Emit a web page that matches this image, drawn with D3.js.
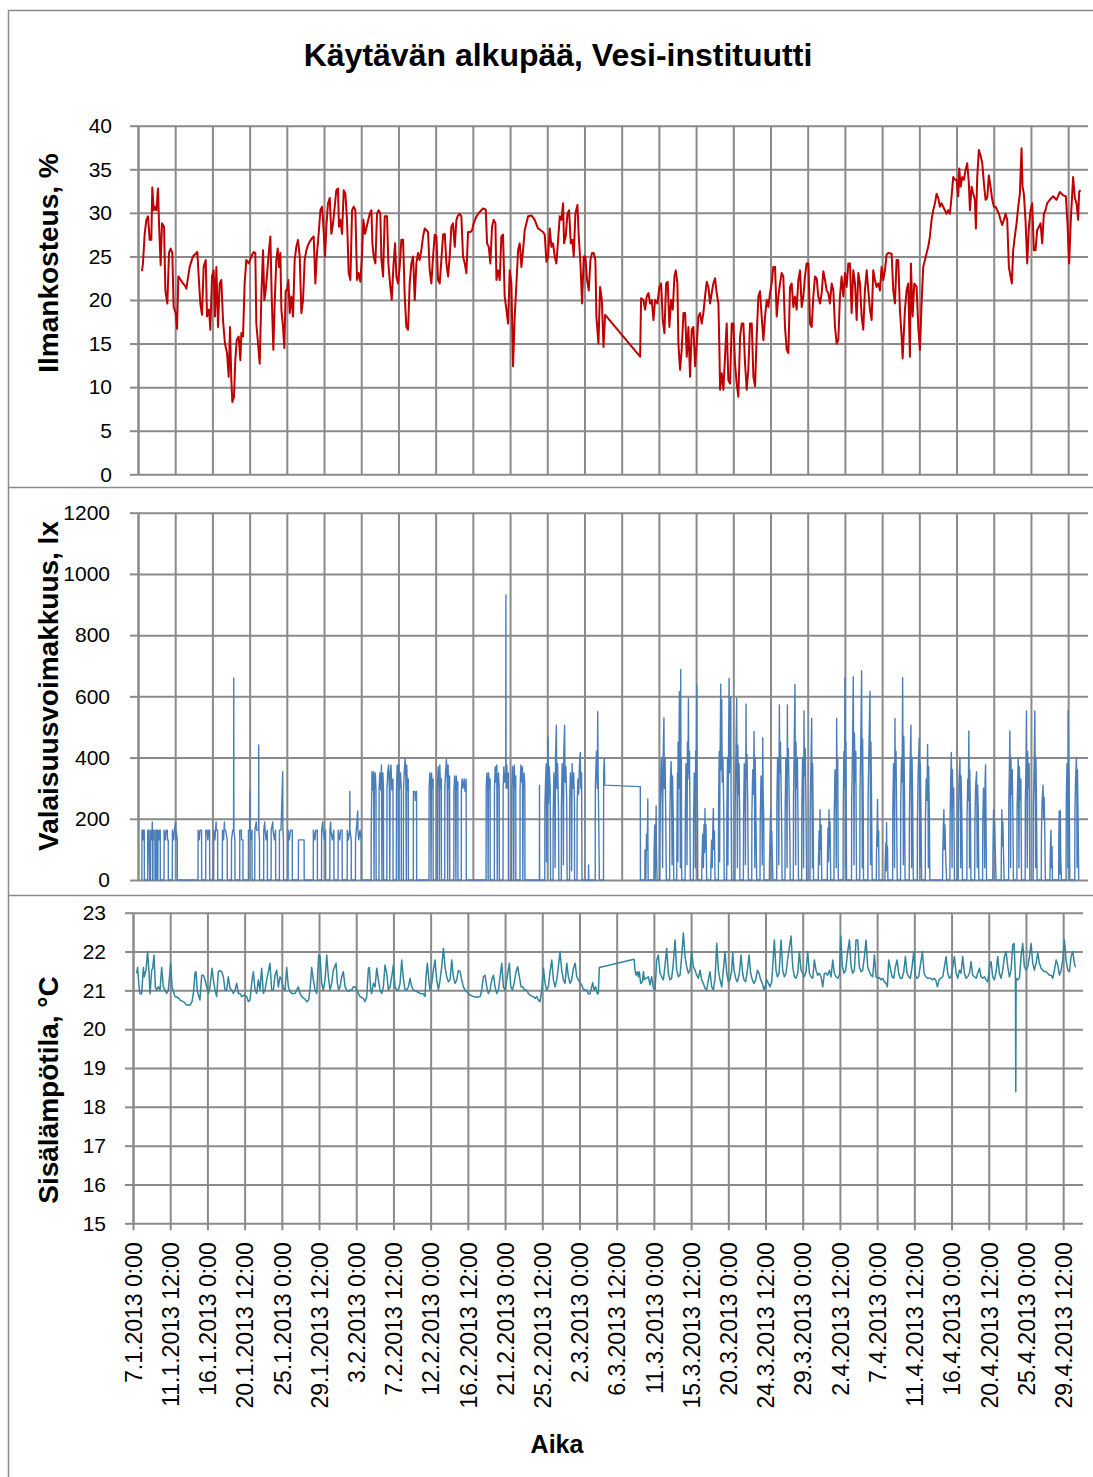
<!DOCTYPE html>
<html>
<head>
<meta charset="utf-8">
<script src="https://cdn.jsdelivr.net/npm/d3@7"></script>
<style>
  html, body { margin: 0; padding: 0; background: #fff; }
  svg { display: block; }
</style>
</head>
<body>
<svg id="chart" width="1093" height="1477"></svg>
<script>
// Measurement period starts 7.1.2013 0:00; every reading is [days since start, value].
const startDay = "7.1.2013 0:00";

const xTickLabels = [
  "7.1.2013 0:00", "11.1.2013 12:00", "16.1.2013 0:00", "20.1.2013 12:00",
  "25.1.2013 0:00", "29.1.2013 12:00", "3.2.2013 0:00", "7.2.2013 12:00",
  "12.2.2013 0:00", "16.2.2013 12:00", "21.2.2013 0:00", "25.2.2013 12:00",
  "2.3.2013 0:00", "6.3.2013 12:00", "11.3.2013 0:00", "15.3.2013 12:00",
  "20.3.2013 0:00", "24.3.2013 12:00", "29.3.2013 0:00", "2.4.2013 12:00",
  "7.4.2013 0:00", "11.4.2013 12:00", "16.4.2013 0:00", "20.4.2013 12:00",
  "25.4.2013 0:00", "29.4.2013 12:00"
];

const humidityTicks = [0, 5, 10, 15, 20, 25, 30, 35, 40];
const luxTicks = [0, 200, 400, 600, 800, 1000, 1200];
const temperatureTicks = [15, 16, 17, 18, 19, 20, 21, 22, 23];

// Relative humidity, %
const humidity = [
[0.48,23.3],[0.60,24.2],[0.81,27.6],[1.01,29.2],[1.21,29.6],[1.41,26.9],[1.61,26.9],[1.73,32.9],[1.90,30.3],[2.02,30.7],
[2.22,30.3],[2.42,32.8],[2.54,28.8],[2.74,24.0],[2.90,28.8],[3.15,28.4],[3.31,21.1],[3.55,19.6],[3.75,25.4],[3.95,25.9],
[4.15,25.4],[4.31,19.2],[4.56,18.5],[4.72,16.7],[4.88,22.7],[5.04,22.5],[5.44,21.9],[5.65,21.7],[5.85,21.3],[6.25,23.8],
[6.65,25.0],[7.18,25.5],[7.34,22.7],[7.54,19.6],[7.74,18.3],[7.94,23.8],[8.19,24.6],[8.35,18.1],[8.59,18.9],[8.75,16.6],
[8.95,22.7],[9.15,23.4],[9.31,18.1],[9.48,23.8],[9.68,16.9],[9.88,21.9],[10.08,22.3],[10.28,17.7],[10.52,15.0],[10.77,13.9],
[10.97,11.2],[11.13,16.9],[11.29,10.8],[11.41,8.3],[11.61,8.9],[11.77,13.1],[11.94,15.4],[12.18,15.8],[12.38,13.1],[12.50,16.2],
[12.70,15.8],[12.90,21.9],[13.10,24.6],[13.39,24.2],[13.71,25.0],[13.99,25.5],[14.19,25.4],[14.31,17.3],[14.52,15.0],[14.72,12.7],
[14.92,20.4],[15.12,25.7],[15.28,20.0],[15.44,21.1],[15.65,23.4],[15.81,25.4],[16.01,27.3],[16.17,20.4],[16.37,14.3],[16.53,19.6],
[16.73,24.6],[16.90,25.9],[17.06,23.8],[17.22,25.4],[17.34,18.9],[17.54,16.9],[17.70,14.5],[17.86,21.1],[18.02,21.1],[18.19,22.3],
[18.35,18.5],[18.55,20.4],[18.75,18.1],[18.95,24.6],[19.15,26.1],[19.35,26.9],[19.56,25.0],[19.76,18.5],[19.96,20.0],[20.16,24.6],
[20.36,25.7],[20.56,26.3],[20.77,26.7],[21.05,27.1],[21.25,27.3],[21.45,21.9],[21.65,25.4],[21.85,27.6],[22.06,30.3],[22.26,30.7],
[22.38,29.2],[22.62,25.0],[22.78,28.4],[22.98,31.1],[23.19,31.7],[23.39,27.6],[23.59,28.8],[23.79,30.7],[23.99,32.6],[24.19,32.8],
[24.31,28.4],[24.48,29.2],[24.68,27.6],[24.88,32.6],[25.08,32.2],[25.28,29.2],[25.48,23.1],[25.69,22.3],[25.89,30.3],[26.09,30.7],
[26.29,30.3],[26.49,22.3],[26.69,23.1],[26.90,22.1],[27.10,25.4],[27.26,29.2],[27.46,27.6],[27.66,28.4],[28.02,29.9],[28.23,30.3],
[28.35,26.5],[28.51,25.0],[28.71,24.2],[28.91,29.9],[29.11,30.3],[29.31,29.9],[29.44,24.6],[29.64,22.7],[29.84,29.6],[30.12,29.6],
[30.28,24.2],[30.48,21.9],[30.69,20.0],[30.89,23.8],[31.09,26.5],[31.25,22.7],[31.45,21.9],[31.65,23.8],[31.85,26.9],[32.06,26.9],
[32.26,20.4],[32.46,16.9],[32.66,16.6],[32.86,21.9],[33.06,24.2],[33.27,25.0],[33.47,20.0],[33.67,24.2],[33.87,25.4],[34.07,24.6],
[34.27,25.7],[34.48,27.3],[34.68,28.2],[35.08,27.8],[35.28,23.4],[35.48,21.9],[35.69,25.0],[35.89,27.5],[36.09,27.3],[36.29,22.3],
[36.49,21.9],[36.69,24.6],[36.90,27.5],[37.10,27.6],[37.30,24.2],[37.50,22.7],[37.70,25.0],[37.90,28.4],[38.10,28.8],[38.31,26.1],
[38.51,29.2],[38.71,29.7],[38.91,29.9],[39.11,29.6],[39.31,25.0],[39.52,24.2],[39.72,23.1],[39.92,27.8],[40.20,27.8],[40.40,28.0],
[40.60,28.8],[40.93,29.6],[41.33,30.1],[41.73,30.5],[42.06,30.4],[42.22,26.5],[42.42,26.1],[42.62,24.2],[42.82,28.4],[43.02,29.2],
[43.23,28.8],[43.35,22.3],[43.55,23.4],[43.75,22.3],[43.95,27.3],[44.15,27.5],[44.35,20.4],[44.56,18.9],[44.76,17.3],[44.96,23.4],
[45.16,21.9],[45.36,12.4],[45.56,18.1],[45.77,21.9],[45.97,25.7],[46.17,26.5],[46.37,23.8],[46.57,25.7],[46.77,28.0],[47.18,29.6],
[47.58,29.7],[47.98,29.2],[48.39,28.2],[48.99,27.8],[49.19,27.5],[49.40,24.4],[49.60,25.0],[49.80,28.2],[50.00,26.1],[50.20,26.5],
[50.40,25.0],[50.60,24.2],[50.81,26.9],[51.01,29.6],[51.21,29.2],[51.41,31.1],[51.53,26.5],[51.73,27.3],[51.94,29.9],[52.14,30.3],
[52.34,26.5],[52.54,26.9],[52.70,25.0],[52.90,29.9],[53.15,30.9],[53.31,27.3],[53.51,24.2],[53.71,19.6],[53.91,25.0],[54.11,25.0],
[54.31,22.3],[54.52,21.1],[54.72,24.6],[54.92,25.4],[55.12,25.4],[55.32,24.6],[55.44,18.1],[55.69,15.0],[55.89,21.5],[56.10,20.0],
[56.30,14.6],[56.50,18.3],[60.73,13.5],[60.85,20.2],[61.13,20.0],[61.33,18.9],[61.53,20.4],[61.74,20.8],[61.94,19.6],[62.14,20.0],
[62.34,17.7],[62.54,20.0],[62.82,19.6],[63.07,21.5],[63.27,21.9],[63.47,17.7],[63.67,16.2],[63.87,21.9],[64.07,22.1],[64.27,16.9],
[64.48,20.0],[64.68,18.9],[64.88,22.7],[65.04,23.4],[65.24,21.9],[65.36,15.0],[65.56,12.0],[65.76,14.3],[65.97,18.5],[66.17,18.5],
[66.37,13.5],[66.57,16.9],[66.77,11.2],[66.97,16.6],[67.17,16.9],[67.38,12.4],[67.58,15.0],[67.78,18.1],[67.98,18.5],[68.18,17.3],
[68.38,18.5],[68.58,20.4],[68.79,22.1],[68.99,21.5],[69.19,19.6],[69.39,20.8],[69.59,21.9],[69.79,22.5],[69.99,20.8],[70.20,19.6],
[70.32,14.3],[70.40,9.7],[70.60,11.6],[70.80,9.7],[71.00,13.5],[71.20,17.3],[71.40,10.8],[71.61,10.4],[71.81,17.3],[72.01,17.3],
[72.21,12.7],[72.41,10.4],[72.61,8.9],[72.82,15.8],[73.02,17.3],[73.22,17.3],[73.42,12.7],[73.62,9.7],[73.82,12.0],[74.02,17.3],
[74.23,17.3],[74.43,11.2],[74.63,10.1],[74.83,15.8],[75.03,20.4],[75.23,21.0],[75.43,18.1],[75.64,15.4],[75.84,18.1],[76.04,20.0],
[76.24,19.2],[76.44,20.8],[76.64,21.9],[76.84,23.8],[77.05,23.8],[77.25,18.1],[77.45,20.4],[77.65,21.9],[77.85,23.1],[78.05,22.7],
[78.25,16.9],[78.46,14.3],[78.66,13.9],[78.86,21.5],[79.06,21.9],[79.26,19.2],[79.46,20.4],[79.66,18.9],[79.87,22.3],[80.07,23.4],
[80.27,19.2],[80.47,20.4],[80.67,22.7],[80.87,24.2],[81.08,24.2],[81.28,17.3],[81.48,16.9],[81.68,20.4],[81.88,22.7],[82.08,22.5],
[82.28,20.4],[82.49,19.6],[82.69,20.8],[82.89,23.3],[83.09,22.3],[83.29,21.1],[83.49,20.8],[83.69,19.6],[83.90,21.9],[84.10,21.1],
[84.30,16.9],[84.50,15.0],[84.70,15.4],[84.90,20.4],[85.10,22.7],[85.31,20.4],[85.51,23.1],[85.71,21.5],[85.91,24.2],[86.11,24.2],
[86.31,18.5],[86.51,23.4],[86.72,21.9],[86.92,17.7],[87.12,23.1],[87.32,21.9],[87.52,18.1],[87.72,16.6],[87.92,21.1],[88.13,23.4],
[88.33,21.1],[88.53,18.9],[88.73,17.7],[88.93,23.4],[89.13,22.3],[89.33,21.5],[89.54,21.9],[89.74,21.1],[89.94,23.8],[90.14,22.3],
[90.34,23.4],[90.54,25.2],[90.74,25.4],[91.15,25.3],[91.35,21.1],[91.55,19.6],[91.75,24.6],[91.95,24.6],[92.15,18.9],[92.36,15.8],
[92.48,13.3],[92.76,18.9],[92.96,21.1],[93.16,21.9],[93.36,13.5],[93.48,24.2],[93.69,18.1],[93.89,21.9],[94.17,21.5],[94.37,16.9],
[94.57,14.3],[94.77,19.6],[94.97,23.8],[95.18,24.6],[95.38,25.4],[95.58,26.1],[95.78,27.3],[95.98,29.2],[96.18,30.3],[96.39,31.1],
[96.59,32.2],[96.79,31.7],[96.99,30.7],[97.19,31.1],[97.39,30.7],[97.59,30.3],[97.80,29.9],[98.00,30.3],[98.20,29.9],[98.40,31.9],
[98.60,34.1],[98.80,33.8],[99.00,33.8],[99.21,31.9],[99.33,35.1],[99.49,33.0],[99.69,34.1],[99.89,33.8],[100.09,34.9],[100.29,35.7],
[100.49,33.4],[100.62,30.3],[100.82,33.0],[101.02,32.2],[101.22,31.5],[101.34,28.2],[101.50,34.1],[101.70,37.2],[101.90,36.6],[102.11,35.7],
[102.31,33.4],[102.51,31.5],[102.71,31.7],[102.91,34.3],[103.11,33.0],[103.32,31.5],[103.52,30.7],[103.72,30.7],[103.92,30.3],[104.12,29.9],
[104.32,29.2],[104.52,28.6],[104.73,29.2],[104.93,29.9],[105.13,29.2],[105.33,23.8],[105.53,22.7],[105.69,21.9],[105.85,25.7],[106.05,27.3],
[106.26,28.8],[106.46,30.7],[106.66,32.2],[106.86,37.4],[106.98,33.0],[107.14,32.2],[107.34,29.2],[107.55,24.2],[107.75,28.4],[107.95,30.3],
[108.15,31.1],[108.35,25.7],[108.55,25.7],[108.75,28.0],[108.96,28.4],[109.16,28.8],[109.36,26.5],[109.56,29.9],[109.76,30.3],[109.96,31.1],
[110.28,31.5],[110.69,31.9],[111.09,31.5],[111.49,32.4],[111.90,32.0],[112.22,31.9],[112.42,28.8],[112.62,24.2],[112.82,29.2],[113.10,34.1],
[113.31,31.7],[113.51,31.1],[113.71,29.2],[113.83,32.4],[113.99,32.6]
];

// Illuminance, lx
const illuminance = [
[0.47,0],[0.48,163],[0.56,163],[0.6,131],[0.64,163],[0.76,163],[0.77,0],
[1.17,0],[1.18,163],[1.3,163],[1.41,0],[1.49,0],[1.5,163],[1.6,131],[1.7,163],[1.73,190],[1.75,0],[1.81,0],[1.82,163],[1.95,163],[1.96,131],[2.05,131],[2.06,0],
[2.14,0],[2.15,163],[2.28,163],[2.3,0],[2.4,0],[2.41,163],[2.55,131],[2.6,163],[2.69,163],[2.7,0],
[3.15,0],[3.16,163],[3.3,131],[3.4,163],[3.55,163],[3.56,131],[3.66,131],[3.67,0],
[4.15,0],[4.16,163],[4.3,131],[4.4,163],[4.55,190],[4.56,131],[4.6,163],[4.75,131],[4.76,0],
[7.26,0],[7.27,163],[7.4,131],[7.5,163],[7.69,163],[7.7,0],
[8.19,0],[8.2,163],[8.35,163],[8.45,131],[8.55,163],[8.66,163],[8.67,0],
[9.15,0],[9.16,163],[9.3,131],[9.45,190],[9.47,163],[9.63,163],[9.64,0],
[10.2,0],[10.21,163],[10.35,131],[10.45,190],[10.47,163],[10.6,163],[10.79,131],[10.8,0],
[11.3,0],[11.31,131],[11.45,163],[11.56,163],[11.58,660],[11.6,163],[11.72,131],[11.73,0],
[12.3,0],[12.31,163],[12.5,163],[12.52,131],[12.69,131],[12.7,0],
[13.35,0],[13.36,163],[13.5,163],[13.53,289],[13.56,163],[13.7,131],[13.79,163],[13.8,0],
[14.12,0],[14.13,163],[14.3,190],[14.35,163],[14.58,163],[14.6,441],[14.62,163],[14.69,131],[14.7,0],
[15.2,0],[15.21,163],[15.33,190],[15.36,163],[15.5,131],[15.64,163],[15.65,0],
[16.1,0],[16.11,163],[16.3,190],[16.33,163],[16.5,131],[16.64,163],[16.65,0],
[17.1,0],[17.11,163],[17.3,163],[17.5,354],[17.53,163],[17.59,131],[17.6,0],
[18.15,0],[18.16,163],[18.3,131],[18.45,163],[18.66,163],[18.67,0],
[19.4,0],[19.41,131],[20.09,131],[20.1,0],
[21.2,0],[21.21,163],[21.4,131],[21.5,163],[21.69,163],[21.7,0],
[22.2,0],[22.21,163],[22.35,190],[22.38,163],[22.55,131],[22.69,163],[22.7,0],
[23.2,0],[23.21,163],[23.3,190],[23.33,163],[23.5,131],[23.69,163],[23.7,0],
[24.2,0],[24.21,163],[24.4,131],[24.5,163],[24.69,163],[24.7,0],
[25.3,0],[25.31,163],[25.45,131],[25.6,163],[25.62,289],[25.64,163],[25.79,131],[25.8,0],
[26.3,0],[26.31,131],[26.4,163],[26.58,226],[26.6,163],[26.7,131],[26.85,163],[26.99,131],[27.0,0],
[28.2,0],[28.21,163],[28.3,354],[28.4,294],[28.5,354],[28.55,0],[28.6,294],[28.7,350],[28.79,294],[28.8,0],
[29.15,0],[29.16,300],[29.25,350],[29.35,294],[29.45,376],[29.5,0],[29.55,300],[29.62,350],[29.69,294],[29.7,0],
[30.1,0],[30.11,294],[30.2,350],[30.3,376],[30.4,300],[30.45,0],[30.5,350],[30.6,376],[30.7,294],[30.84,330],[30.85,0],
[31.25,0],[31.26,294],[31.35,376],[31.45,320],[31.5,0],[31.55,376],[31.65,300],[31.75,350],[31.84,300],[31.85,0],
[32.1,0],[32.11,294],[32.2,350],[32.3,397],[32.4,330],[32.45,0],[32.5,376],[32.6,294],[32.69,330],[32.7,0],
[33.3,0],[33.31,289],[33.5,289],[33.55,260],[33.69,289],[33.7,0],
[35.2,0],[35.21,300],[35.3,350],[35.4,294],[35.45,0],[35.5,350],[35.6,300],[35.69,330],[35.7,0],
[36.2,0],[36.21,294],[36.3,370],[36.4,320],[36.45,0],[36.5,376],[36.6,300],[36.69,330],[36.7,0],
[37.1,0],[37.11,300],[37.2,350],[37.3,395],[37.4,320],[37.45,0],[37.5,376],[37.6,300],[37.69,340],[37.7,0],
[38.2,0],[38.21,294],[38.3,340],[38.4,300],[38.45,0],[38.5,340],[38.6,294],[38.69,320],[38.7,0],
[39.1,0],[39.11,290],[39.2,330],[39.3,300],[39.45,330],[39.55,290],[39.69,330],[39.7,0],
[42.1,0],[42.11,300],[42.2,350],[42.3,294],[42.35,0],[42.4,350],[42.5,300],[42.59,330],[42.6,0],
[43.1,0],[43.11,294],[43.2,370],[43.3,320],[43.4,376],[43.45,0],[43.5,300],[43.6,350],[43.69,300],[43.7,0],
[44.15,0],[44.16,300],[44.25,370],[44.35,320],[44.48,350],[44.5,931],[44.52,300],[44.6,376],[44.7,300],[44.79,350],[44.8,0],
[45.2,0],[45.21,300],[45.3,370],[45.4,320],[45.45,0],[45.5,376],[45.6,300],[45.69,340],[45.7,0],
[46.2,0],[46.21,294],[46.3,376],[46.4,320],[46.5,370],[46.55,0],[46.6,300],[46.7,350],[46.79,300],[46.8,0],
[48.55,0],[48.56,310],[48.58,0],
[49.2,0],[49.21,240],[49.3,330],[49.38,380],[49.42,60],[49.5,300],[49.6,466],[49.65,250],[49.75,370],[49.85,300],[49.9,0],
[50.2,0],[50.21,200],[50.3,350],[50.4,260],[50.45,40],[50.5,400],[50.6,506],[50.65,300],[50.75,380],[50.85,240],[50.9,0],
[51.2,0],[51.21,240],[51.3,380],[51.4,300],[51.45,50],[51.5,420],[51.6,506],[51.65,320],[51.75,370],[51.85,260],[51.9,0],
[52.2,0],[52.21,260],[52.3,350],[52.4,290],[52.45,30],[52.5,380],[52.6,300],[52.7,350],[52.79,250],[52.8,0],
[53.1,0],[53.11,240],[53.2,330],[53.3,280],[53.4,380],[53.5,417],[53.55,300],[53.65,350],[53.7,0],
[54.48,0],[54.5,49],[54.52,0],
[55.3,0],[55.31,300],[55.45,420],[55.55,300],[55.6,550],[55.65,350],[55.75,131],[55.8,0],[56.3,0],[56.32,350],[56.4,397],[56.45,310],[60.75,305],[60.77,0],
[61.3,0],[61.32,98],[61.42,0],[61.5,150],[61.6,98],[61.66,265],[61.68,98],[61.7,0],
[62.4,0],[62.42,98],[62.5,180],[62.55,0],[62.62,120],[62.67,242],[62.7,120],[62.78,0],
[63.1,0],[63.12,120],[63.2,300],[63.3,400],[63.4,260],[63.45,40],[63.5,380],[63.61,530],[63.65,300],[63.75,400],[63.85,150],[63.9,0],
[64.3,0],[64.32,200],[64.4,330],[64.48,387],[64.55,260],[64.6,50],[64.65,340],[64.75,180],[64.8,0],
[65.16,0],[65.18,150],[65.25,350],[65.3,60],[65.32,450],[65.4,300],[65.48,615],[65.55,350],[65.6,40],[65.64,688],[65.67,320],[65.72,400],[65.76,0],
[66.17,0],[66.19,200],[66.27,380],[66.35,300],[66.4,50],[66.45,450],[66.52,330],[66.57,593],[66.62,350],[66.7,420],[66.77,150],[66.8,0],
[67.17,0],[67.19,180],[67.28,350],[67.36,280],[67.4,40],[67.45,420],[67.52,300],[67.58,637],[67.62,330],[67.68,200],[67.7,0],
[68.18,0],[68.2,60],[68.3,150],[68.38,40],[68.45,180],[68.52,90],[68.58,234],[68.62,100],[68.7,180],[68.78,0],
[69.27,0],[69.29,50],[69.38,130],[69.45,40],[69.52,170],[69.59,234],[69.63,100],[69.72,160],[69.79,0],
[70.2,0],[70.22,250],[70.3,420],[70.35,60],[70.38,330],[70.48,640],[70.52,360],[70.6,590],[70.66,320],[70.75,400],[70.85,220],[70.9,0],
[71.2,0],[71.22,220],[71.3,400],[71.35,50],[71.4,320],[71.49,659],[71.53,350],[71.6,450],[71.69,599],[71.73,300],[71.8,0],
[72.21,0],[72.23,250],[72.32,420],[72.41,593],[72.45,320],[72.5,40],[72.55,440],[72.62,280],[72.7,380],[72.78,200],[72.8,0],
[73.22,0],[73.24,200],[73.33,380],[73.42,300],[73.47,50],[73.54,575],[73.58,330],[73.66,410],[73.74,250],[73.82,0],
[74.23,0],[74.25,220],[74.35,360],[74.45,280],[74.51,485],[74.56,320],[74.6,40],[74.65,400],[74.74,200],[74.83,0],
[75.23,0],[75.25,180],[75.35,340],[75.45,280],[75.5,50],[75.56,465],[75.6,300],[75.68,200],[75.72,0],
[76.36,0],[76.38,60],[76.45,150],[76.52,231],[76.56,80],[76.65,160],[76.75,40],[76.8,0],
[77.25,0],[77.27,250],[77.36,400],[77.45,330],[77.5,50],[77.57,572],[77.62,350],[77.7,450],[77.78,300],[77.85,180],[77.9,0],
[78.25,0],[78.27,220],[78.36,400],[78.45,320],[78.5,40],[78.54,572],[78.58,350],[78.66,430],[78.75,280],[78.84,150],[78.88,0],
[79.26,0],[79.28,260],[79.36,420],[79.46,639],[79.5,360],[79.54,50],[79.58,450],[79.66,300],[79.75,400],[79.84,160],[79.88,0],
[80.27,0],[80.29,240],[80.38,400],[80.46,320],[80.5,40],[80.55,552],[80.6,340],[80.7,430],[80.78,260],[80.87,0],
[81.28,0],[81.3,200],[81.38,360],[81.48,528],[81.52,300],[81.56,40],[81.6,380],[81.68,150],[81.7,0],
[82.28,0],[82.3,70],[82.38,160],[82.44,50],[82.49,230],[82.53,100],[82.62,180],[82.7,0],
[83.37,0],[83.39,80],[83.46,170],[83.52,60],[83.57,230],[83.62,110],[83.7,190],[83.78,0],
[84.18,0],[84.2,200],[84.3,360],[84.4,280],[84.45,40],[84.5,528],[84.55,320],[84.63,400],[84.7,0],
[85.28,0],[85.3,240],[85.38,420],[85.45,300],[85.5,661],[85.55,350],[85.58,40],[85.62,450],[85.7,0],
[86.3,0],[86.32,260],[86.42,430],[86.51,664],[86.56,360],[86.6,50],[86.65,480],[86.74,320],[86.82,420],[86.9,0],
[87.3,0],[87.32,280],[87.42,450],[87.52,684],[87.56,360],[87.6,40],[87.64,460],[87.72,220],[87.75,0],
[88.28,0],[88.3,260],[88.4,420],[88.53,617],[88.57,350],[88.6,50],[88.65,450],[88.72,260],[88.8,0],
[89.3,0],[89.32,90],[89.4,180],[89.45,263],[89.5,110],[89.58,160],[89.62,0],
[90.34,0],[90.36,50],[90.44,120],[90.5,30],[90.54,187],[90.58,60],[90.65,110],[90.7,0],
[91.27,0],[91.29,220],[91.38,380],[91.46,300],[91.5,40],[91.55,528],[91.6,330],[91.68,420],[91.76,200],[91.83,0],
[92.23,0],[92.25,240],[92.34,400],[92.42,320],[92.48,661],[92.53,360],[92.57,50],[92.62,470],[92.7,300],[92.78,0],
[93.28,0],[93.3,200],[93.38,360],[93.48,506],[93.53,310],[93.57,40],[93.62,400],[93.7,250],[93.77,0],
[94.25,0],[94.27,200],[94.36,350],[94.49,463],[94.53,300],[94.57,40],[94.62,380],[94.7,220],[94.78,0],
[95.22,0],[95.24,200],[95.33,330],[95.42,260],[95.5,443],[95.55,300],[95.59,40],[95.63,370],[95.72,200],[95.77,0],
[97.31,0],[97.33,80],[97.4,170],[97.47,230],[97.52,100],[97.6,180],[97.7,60],[97.8,0],
[98.2,0],[98.22,200],[98.3,330],[98.37,417],[98.42,260],[98.46,40],[98.5,360],[98.58,240],[98.66,300],[98.75,0],
[99.2,0],[99.22,200],[99.3,320],[99.41,397],[99.46,260],[99.5,40],[99.55,340],[99.63,230],[99.72,0],
[100.25,0],[100.27,200],[100.36,330],[100.42,260],[100.49,487],[100.53,300],[100.57,40],[100.6,360],[100.68,220],[100.74,0],
[101.2,0],[101.22,180],[101.3,300],[101.42,354],[101.46,250],[101.5,40],[101.55,310],[101.62,230],[101.7,0],
[102.15,0],[102.17,180],[102.26,300],[102.35,240],[102.4,40],[102.45,320],[102.51,376],[102.55,250],[102.62,0],
[103.38,0],[103.4,80],[103.48,230],[103.52,100],[103.6,190],[103.7,80],[103.78,0],
[104.4,0],[104.42,90],[104.48,230],[104.52,110],[104.6,190],[104.7,70],[104.75,0],
[105.3,0],[105.32,250],[105.39,360],[105.45,487],[105.5,300],[105.54,40],[105.58,400],[105.66,280],[105.74,360],[105.82,200],[105.88,0],
[106.3,0],[106.32,220],[106.4,330],[106.46,400],[106.5,280],[106.55,40],[106.6,370],[106.7,260],[106.78,330],[106.86,0],
[107.3,0],[107.32,250],[107.4,380],[107.46,552],[107.5,320],[107.55,40],[107.6,420],[107.7,300],[107.78,380],[107.86,0],
[108.27,0],[108.29,240],[108.38,360],[108.47,552],[108.52,320],[108.56,40],[108.6,400],[108.68,220],[108.74,0],
[109.25,0],[109.27,150],[109.35,260],[109.47,310],[109.52,200],[109.6,270],[109.68,150],[109.74,0],
[110.3,0],[110.32,60],[110.38,130],[110.42,163],[110.48,40],[110.55,110],[110.6,0],
[111.35,0],[111.37,120],[111.42,226],[111.46,210],[111.5,20],[111.55,226],[111.6,80],[111.68,0],
[112.25,0],[112.27,250],[112.36,380],[112.44,300],[112.47,40],[112.5,552],[112.55,400],[112.62,330],[112.7,0],
[113.3,0],[113.32,220],[113.4,330],[113.5,400],[113.55,290],[113.58,40],[113.63,360],[113.7,200],[113.78,0]
];

// Indoor temperature, °C
const temperature = [
[0.44,21.44],[0.56,21.59],[0.73,21.09],[0.85,20.91],[1.05,20.91],[1.25,21.59],[1.37,21.35],[1.57,21.52],[1.77,22.00],[1.94,21.44],
[2.06,20.91],[2.26,21.52],[2.38,21.57],[2.54,21.91],[2.70,21.09],[2.86,21.01],[3.06,21.09],[3.27,21.01],[3.47,21.59],[3.67,21.09],
[3.87,21.01],[4.07,20.92],[4.27,21.01],[4.56,21.70],[4.72,21.09],[4.88,20.97],[5.08,20.84],[5.48,20.81],[5.69,20.75],[6.09,20.71],
[6.49,20.62],[6.90,20.62],[7.14,20.71],[7.30,20.92],[7.50,21.44],[7.62,21.48],[7.78,20.97],[7.98,20.84],[8.10,20.75],[8.31,21.39],
[8.51,21.39],[8.71,21.27],[8.91,21.09],[9.15,20.92],[9.31,21.09],[9.56,21.57],[9.72,21.27],[9.92,21.01],[10.12,20.84],[10.32,21.48],
[10.52,21.51],[10.73,21.48],[10.93,21.35],[11.13,21.01],[11.33,21.01],[11.53,21.35],[11.73,21.05],[11.94,21.01],[12.14,20.92],[12.34,21.01],
[12.54,21.18],[12.74,20.92],[12.94,20.92],[13.15,20.84],[13.43,20.88],[13.75,20.84],[13.95,20.71],[14.15,20.75],[14.35,21.18],[14.56,21.48],
[14.76,21.01],[14.96,20.92],[15.16,21.27],[15.36,21.01],[15.56,21.57],[15.77,20.92],[15.97,21.01],[16.17,21.27],[16.37,21.48],[16.57,21.70],
[16.77,21.01],[16.98,21.01],[17.18,21.39],[17.38,21.52],[17.58,21.09],[17.78,21.35],[17.98,21.27],[18.19,21.05],[18.39,21.01],[18.59,21.59],
[18.79,21.09],[18.99,20.97],[19.19,20.92],[19.60,20.92],[19.80,21.01],[20.00,21.09],[20.20,20.92],[20.40,20.84],[20.81,20.77],[21.01,20.71],
[21.25,20.75],[21.41,21.01],[21.61,21.59],[21.81,21.27],[22.02,21.01],[22.22,20.92],[22.46,21.91],[22.62,21.87],[22.82,21.18],[23.02,21.01],
[23.23,21.27],[23.43,21.91],[23.63,21.35],[23.83,21.01],[24.03,21.18],[24.23,21.52],[24.56,21.70],[24.72,21.18],[24.88,21.01],[25.04,21.09],
[25.24,21.35],[25.44,21.48],[25.65,21.09],[25.85,21.01],[26.05,20.97],[26.25,21.01],[26.45,21.01],[26.65,21.09],[26.85,21.09],[27.06,21.01],
[27.26,20.92],[27.46,20.84],[27.86,20.79],[28.06,20.71],[28.27,20.84],[28.47,21.57],[28.59,21.59],[28.75,21.01],[28.87,20.92],[29.07,21.18],
[29.27,21.09],[29.48,21.57],[29.68,21.27],[29.88,21.01],[30.08,20.92],[30.28,21.09],[30.48,21.65],[30.69,21.44],[30.89,21.01],[31.09,21.09],
[31.29,21.35],[31.49,21.65],[31.69,21.09],[31.90,21.01],[32.10,21.01],[32.30,21.18],[32.50,21.78],[32.70,21.31],[32.90,21.01],[33.10,21.01],
[33.31,21.09],[33.51,21.31],[33.71,21.09],[33.91,21.01],[34.31,20.97],[34.72,20.92],[35.12,20.91],[35.32,20.84],[35.44,21.35],[35.60,21.70],
[35.77,21.27],[35.93,21.01],[36.13,21.18],[36.33,21.52],[36.53,21.78],[36.73,21.27],[36.94,21.01],[37.14,21.27],[37.34,21.61],[37.54,22.08],
[37.74,21.61],[37.94,21.35],[38.15,21.22],[38.35,21.27],[38.55,21.78],[38.75,21.35],[38.95,21.18],[39.15,21.27],[39.35,21.51],[39.56,21.48],
[39.76,21.27],[39.96,21.09],[40.16,21.01],[40.36,20.97],[40.77,20.88],[41.17,20.84],[41.57,20.82],[41.98,20.84],[42.18,21.01],[42.38,21.35],
[42.58,21.39],[42.78,21.09],[42.98,20.92],[43.19,21.01],[43.39,21.27],[43.59,21.39],[43.79,21.09],[43.99,20.92],[44.19,21.01],[44.40,21.35],
[44.60,21.70],[44.80,21.09],[45.00,21.01],[45.20,21.27],[45.52,21.70],[45.69,21.09],[45.89,21.01],[46.09,21.18],[46.33,21.48],[46.53,21.61],
[46.73,21.35],[46.94,21.09],[47.14,21.09],[47.34,21.01],[47.62,21.01],[47.82,20.92],[48.02,20.88],[48.23,20.85],[48.43,20.84],[48.63,20.79],
[48.83,20.84],[49.03,20.75],[49.23,20.71],[49.44,21.01],[49.64,21.57],[49.84,21.18],[50.04,21.01],[50.24,21.09],[50.44,21.48],[50.65,21.78],
[50.85,21.27],[51.05,21.09],[51.25,21.27],[51.45,21.61],[51.65,22.00],[51.85,21.52],[52.06,21.27],[52.26,21.18],[52.46,21.70],[52.66,21.35],
[52.86,21.18],[53.06,21.27],[53.27,21.57],[53.47,21.70],[53.67,21.35],[53.87,21.27],[54.06,21.20],[54.27,21.14],[54.47,21.03],[54.67,21.01],
[54.87,21.01],[55.07,20.91],[55.27,20.91],[55.48,21.09],[55.60,21.20],[55.76,21.01],[55.96,21.09],[56.16,20.91],[56.28,20.91],[56.40,21.59],
[60.60,21.80],[60.72,21.52],[60.84,21.39],[61.00,21.48],[61.12,21.35],[61.24,21.48],[61.40,21.18],[61.60,21.22],[61.73,21.48],[61.85,21.27],
[62.01,21.31],[62.13,21.31],[62.33,21.35],[62.53,21.14],[62.73,21.35],[62.94,21.05],[63.14,21.01],[63.34,21.78],[63.54,21.91],[63.74,21.44],
[63.94,21.35],[64.15,21.27],[64.35,21.65],[64.55,22.08],[64.75,21.44],[64.95,21.27],[65.15,21.31],[65.35,21.70],[65.56,22.30],[65.76,21.52],
[65.96,21.35],[66.16,21.39],[66.36,21.87],[66.56,22.48],[66.77,21.87],[66.97,21.61],[67.17,21.44],[67.37,21.52],[67.57,22.00],[67.77,21.61],
[67.98,21.52],[68.18,21.39],[68.38,21.31],[68.58,21.52],[68.78,21.27],[68.98,21.18],[69.19,21.05],[69.39,21.01],[69.59,21.27],[69.79,21.48],
[69.99,21.09],[70.19,21.01],[70.40,21.31],[70.60,22.21],[70.80,21.52],[71.00,21.27],[71.20,21.09],[71.40,21.52],[71.60,22.00],[71.81,21.44],
[72.01,21.22],[72.21,21.27],[72.41,21.52],[72.53,21.97],[72.69,21.52],[72.90,21.31],[73.10,21.22],[73.34,21.44],[73.54,21.91],[73.74,21.44],
[73.90,21.27],[74.10,21.22],[74.31,21.52],[74.51,21.91],[74.71,21.44],[74.91,21.27],[75.11,21.18],[75.31,21.27],[75.52,21.52],[75.72,21.44],
[75.92,21.27],[76.12,21.18],[76.32,21.01],[76.44,21.09],[76.65,21.27],[76.85,21.18],[77.05,21.09],[77.25,21.22],[77.45,21.87],[77.57,22.30],
[77.77,21.52],[77.94,21.35],[78.14,21.44],[78.38,22.30],[78.58,21.52],[78.78,21.35],[78.98,21.44],[79.19,21.82],[79.59,22.40],[79.79,21.61],
[79.99,21.35],[80.19,21.31],[80.40,21.44],[80.60,22.00],[80.80,21.52],[81.00,21.44],[81.20,21.35],[81.40,21.48],[81.60,22.00],[81.81,21.44],
[82.01,21.35],[82.21,21.31],[82.41,21.78],[82.61,21.52],[82.81,21.39],[83.02,21.44],[83.22,21.35],[83.42,21.09],[83.62,21.44],[83.82,21.44],
[84.02,21.39],[84.23,21.52],[84.43,21.35],[84.63,21.78],[84.83,21.44],[85.03,21.35],[85.23,21.31],[85.44,21.39],[85.60,22.40],[85.80,21.61],
[86.00,21.44],[86.20,21.52],[86.44,22.00],[86.65,22.30],[86.85,21.61],[87.05,21.44],[87.25,21.52],[87.45,22.30],[87.65,22.30],[87.85,21.61],
[88.06,21.48],[88.26,21.52],[88.46,21.87],[88.66,22.30],[88.86,21.61],[89.06,21.48],[89.27,21.39],[89.47,21.35],[89.67,21.91],[89.87,21.35],
[90.07,21.31],[90.27,21.33],[90.48,21.27],[90.68,21.31],[90.88,21.22],[91.08,21.18],[91.24,21.09],[91.40,21.78],[91.60,21.57],[91.81,21.35],
[92.01,21.31],[92.21,21.61],[92.41,21.78],[92.61,21.44],[92.81,21.31],[93.02,21.31],[93.22,21.48],[93.42,21.87],[93.62,21.44],[93.82,21.35],
[94.02,21.31],[94.23,21.61],[94.43,22.00],[94.63,21.39],[94.83,21.31],[95.03,21.35],[95.23,21.65],[95.48,22.00],[95.68,21.44],[95.88,21.35],
[96.08,21.31],[96.28,21.31],[96.48,21.31],[96.69,21.27],[96.89,21.31],[97.09,21.27],[97.29,21.09],[97.49,21.27],[97.69,21.31],[97.94,21.35],
[98.14,21.61],[98.34,21.87],[98.54,21.44],[98.74,21.31],[98.94,21.35],[99.15,21.61],[99.35,21.87],[99.55,21.44],[99.75,21.31],[99.95,21.52],
[100.15,21.44],[100.35,21.87],[100.56,21.44],[100.76,21.31],[100.96,21.35],[101.16,21.44],[101.36,21.74],[101.56,21.39],[101.77,21.35],[101.97,21.31],
[102.17,21.44],[102.37,21.57],[102.57,21.35],[102.77,21.31],[102.98,21.35],[103.18,21.27],[103.38,21.22],[103.58,21.57],[103.78,21.74],[103.98,21.35],
[104.19,21.27],[104.39,21.48],[104.59,21.87],[104.79,21.44],[104.99,21.31],[105.19,21.52],[105.40,21.87],[105.60,22.00],[105.80,21.61],[106.00,21.35],
[106.20,21.52],[106.40,22.17],[106.56,22.21],[106.73,21.31],[106.77,18.39],[106.81,21.31],[107.01,21.27],[107.21,21.31],[107.41,21.87],[107.61,22.21],
[107.81,21.61],[108.02,21.52],[108.22,21.61],[108.42,21.87],[108.62,22.21],[108.82,21.70],[109.02,21.52],[109.23,21.70],[109.43,21.97],[109.63,21.70],
[109.83,21.57],[110.03,21.52],[110.23,21.48],[110.44,21.48],[110.64,21.44],[110.84,21.39],[111.04,21.39],[111.24,21.31],[111.44,21.52],[111.65,21.78],
[111.85,21.65],[112.05,21.39],[112.25,21.52],[112.45,21.78],[112.65,22.30],[112.85,21.78],[113.06,21.52],[113.26,21.48],[113.46,21.87],[113.66,22.00],
[113.86,21.70],[113.98,21.59]
];

// ---------------------------------------------------------------------------
const FONT = '"Liberation Sans", Arial, "DejaVu Sans", sans-serif';
const GRID = "#8a8a8a";
const DAY_MS = 864e5;

const parseStamp = d3.utcParse("%d.%m.%Y %H:%M");
const t0 = parseStamp(startDay);
const toDate = d => new Date(t0.getTime() + d * DAY_MS);
const tickDates = xTickLabels.map(parseStamp);
const timeDomain = [t0, toDate(114.9)];

const svg = d3.select("#chart");

// outer frame and the borders between the three stacked plots
svg.append("rect")
  .attr("x", 8.5).attr("y", 10.5).attr("width", 1200).attr("height", 1600)
  .attr("fill", "none").attr("stroke", GRID).attr("stroke-width", 1.5);
[487.5, 895.5].forEach(yy => {
  svg.append("line").attr("x1", 8).attr("x2", 1093).attr("y1", yy).attr("y2", yy)
    .attr("stroke", GRID).attr("stroke-width", 1.5);
});

// chart title
svg.append("text")
  .attr("x", 558).attr("y", 66).attr("text-anchor", "middle")
  .attr("font-family", FONT).attr("font-weight", "bold").attr("font-size", 32)
  .text("Käytävän alkupää, Vesi-instituutti");

const panels = [
  { data: humidity, ticks: humidityTicks, domain: [0, 40], left: 138, right: 1088,
    top: 125.7, bottom: 474.3, color: "#c00000", width: 2, pad: 18,
    title: "Ilmankosteus, %", titleY: 263 },
  { data: illuminance, ticks: luxTicks, domain: [0, 1200], left: 138, right: 1088,
    top: 512.7, bottom: 880, color: "#4a7ebb", width: 1.4, pad: 20,
    title: "Valaisuusvoimakkuus, lx", titleY: 686 },
  { data: temperature, ticks: temperatureTicks, domain: [15, 23], left: 133, right: 1083,
    top: 912.7, bottom: 1223.3, color: "#31859c", width: 1.5, pad: 19,
    title: "Sisälämpötila, °C", titleY: 1090, timeLabels: true }
];

function styleLines(sel) {
  sel.selectAll("line").attr("stroke", GRID).attr("stroke-width", 2);
}

panels.forEach(p => {
  const x = d3.scaleUtc().domain(timeDomain).range([p.left, p.right]);
  const y = d3.scaleLinear().domain(p.domain).range([p.bottom, p.top]);
  const g = svg.append("g");

  // horizontal gridlines
  g.append("g").attr("transform", `translate(${p.left},0)`)
    .call(d3.axisLeft(y).tickValues(p.ticks).tickSize(-(p.right - p.left)).tickFormat(""))
    .call(a => { a.select(".domain").remove(); styleLines(a); });

  // vertical gridlines at the time ticks
  g.append("g").attr("transform", `translate(0,${p.bottom})`)
    .call(d3.axisBottom(x).tickValues(tickDates).tickSize(-(p.bottom - p.top)).tickFormat(""))
    .call(a => { a.select(".domain").remove(); styleLines(a); });

  // value axis with outside tick marks and labels
  g.append("g").attr("transform", `translate(${p.left},0)`)
    .call(d3.axisLeft(y).tickValues(p.ticks).tickSize(8).tickSizeOuter(0).tickPadding(p.pad)
      .tickFormat(d3.format("d")))
    .call(a => {
      a.select(".domain").attr("stroke", GRID).attr("stroke-width", 2);
      styleLines(a);
      a.selectAll("text").attr("font-family", FONT).attr("font-size", 21).attr("fill", "#000");
    });

  // time axis labels (bottom plot only)
  if (p.timeLabels) {
    g.append("g").attr("transform", `translate(0,${p.bottom})`)
      .call(d3.axisBottom(x).tickValues(tickDates).tickSize(7).tickSizeOuter(0)
        .tickFormat((d, i) => xTickLabels[i]))
      .call(a => {
        a.select(".domain").remove();
        styleLines(a);
        a.selectAll("text")
          .attr("font-family", FONT).attr("font-size", 23).attr("fill", "#000")
          .attr("transform", "rotate(-90)")
          .attr("text-anchor", "end")
          .attr("x", -19).attr("y", 0).attr("dy", "0.36em");
      });
  }

  // measured series
  const line = d3.line().x(d => x(toDate(d[0]))).y(d => y(d[1]));
  g.append("path").datum(p.data)
    .attr("d", line)
    .attr("fill", "none")
    .attr("stroke", p.color)
    .attr("stroke-width", p.width)
    .attr("stroke-linejoin", "round");

  // vertical axis title
  g.append("text")
    .attr("transform", `translate(58,${p.titleY}) rotate(-90)`)
    .attr("text-anchor", "middle")
    .attr("font-family", FONT).attr("font-weight", "bold").attr("font-size", 28)
    .text(p.title);
});

// time axis title
svg.append("text")
  .attr("x", 557).attr("y", 1453).attr("text-anchor", "middle")
  .attr("font-family", FONT).attr("font-weight", "bold").attr("font-size", 25)
  .text("Aika");
</script>
</body>
</html>
